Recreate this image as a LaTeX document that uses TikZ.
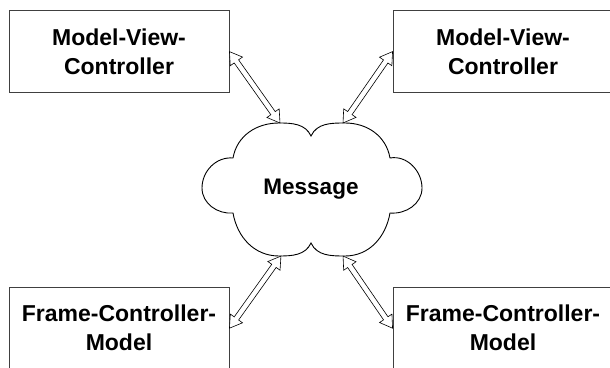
\documentclass[tikz,border=0pt]{standalone}
\usepackage{fontspec}
\setmainfont{Liberation Sans}
\usetikzlibrary{calc}
\tikzset{
  box/.style={draw=black!75, line width=0.9pt, minimum width=220pt, minimum height=82pt,
    inner sep=0pt, align=center, font=\fontsize{23}{29}\selectfont\bfseries},
  cloudline/.style={draw=black, line width=0.9pt, fill=white},
  harrow/.style={draw=black, line width=0.6pt, fill=white, line join=miter},
  msgtext/.style={font=\fontsize{22.5}{26}\selectfont\bfseries, inner sep=0pt}
}
\newcommand{\dblarrow}[2]{%
  \path let \p1=(#1), \p2=(#2) in \pgfextra{%
    \pgfmathsetmacro{\myang}{atan2(\y2-\y1,\x2-\x1)}%
    \pgfmathsetmacro{\mylen}{veclen(\x2-\x1,\y2-\y1)}%
    \xdef\arrang{\myang}\xdef\arrlen{\mylen}};
  \begin{scope}[shift={(#1)}, rotate=\arrang]
    \draw[harrow] (0,0) -- (12,7.5) -- (12,2.7) -- (\arrlen-12,2.7) -- (\arrlen-12,7.5)
      -- (\arrlen,0) -- (\arrlen-12,-7.5) -- (\arrlen-12,-2.7) -- (12,-2.7) -- (12,-7.5) -- cycle;
  \end{scope}}
\begin{document}
\begin{tikzpicture}[x=1pt,y=1pt]
\useasboundingbox (0,0) rectangle (610,367);
\clip (0,0) rectangle (610,367);
\node[box] (bTL) at (119,315.4) {Model-View-\\Controller};
\node[box] (bTR) at (503,315.4) {Model-View-\\Controller};
\node[box] (bBL) at (119,38.8) {Frame-Controller-\\Model};
\node[box] (bBR) at (503,38.8) {Frame-Controller-\\Model};
% cloud
\coordinate (cTL) at (280,244);
\coordinate (cTR) at (343,244);
\coordinate (cBL) at (281,111);
\coordinate (cBR) at (343,111);
\path[cloudline] (311,231) to[out=65,in=180] (345,244) to[out=0,in=100] (390,209)
  to[out=10,in=90] (422,179) to[out=-90,in=-5] (390,154)
  to[out=-100,in=0] (345,111) to[out=180,in=-65] (311,124)
  to[out=-115,in=0] (279,111) to[out=180,in=-80] (233,154)
  to[out=185,in=-90] (202,179) to[out=90,in=175] (233,209)
  to[out=80,in=180] (279,244) to[out=0,in=115] (311,231) -- cycle;
\node[msgtext] (msg) at (311,178) {Message};
\dblarrow{bTL.east}{cTL}
\dblarrow{bTR.west}{cTR}
\dblarrow{bBL.east}{cBL}
\dblarrow{bBR.west}{cBR}
\end{tikzpicture}
\end{document}
